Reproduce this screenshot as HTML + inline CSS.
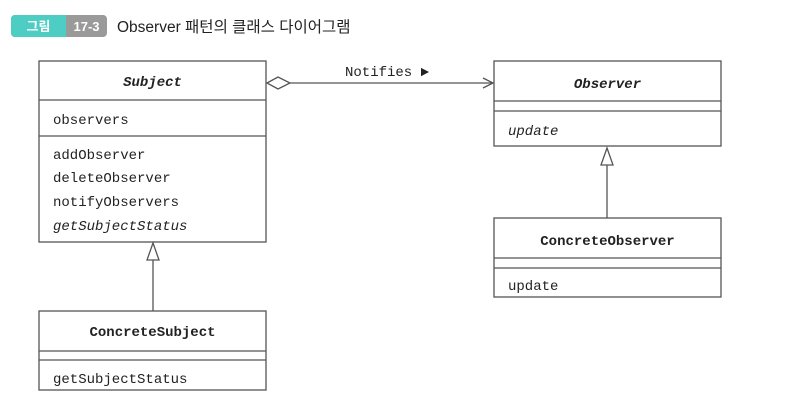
<!DOCTYPE html>
<html><head><meta charset="utf-8"><style>
html,body{margin:0;padding:0;background:#fff;width:803px;height:404px;overflow:hidden}
svg{display:block}
.m{font-family:"Liberation Mono","DejaVu Sans Mono",monospace;font-size:14px;fill:#222}
.b{font-weight:bold}
.i{font-style:italic}
</style></head><body>
<svg width="803" height="404" viewBox="0 0 803 404" xmlns="http://www.w3.org/2000/svg">
<rect x="11" y="15" width="96" height="22" rx="4" fill="#9a9a9a"/>
<path d="M15 15 H66 V37 H15 A4 4 0 0 1 11 33 V19 A4 4 0 0 1 15 15Z" fill="#4ecdc4"/>
<text x="38.5" y="31" text-anchor="middle" font-family="'Liberation Sans','Noto Sans CJK KR',sans-serif" font-size="13" font-weight="bold" fill="#fff">그림</text>
<text x="86.5" y="31" text-anchor="middle" font-family="'Liberation Sans',sans-serif" font-size="13" font-weight="bold" fill="#fff">17-3</text>
<text x="117" y="32" font-family="'Liberation Sans','Noto Sans CJK KR',sans-serif" font-size="15.5" fill="#222">Observer 패턴의 클래스 다이어그램</text>
<g fill="none" stroke="#555" stroke-width="1.3">
<rect x="39" y="61" width="227" height="181"/>
<line x1="39" y1="100" x2="266" y2="100"/>
<line x1="39" y1="136" x2="266" y2="136"/>
<rect x="39" y="311" width="227" height="79"/>
<line x1="39" y1="351" x2="266" y2="351"/>
<line x1="39" y1="360" x2="266" y2="360"/>
<rect x="494" y="61" width="227" height="85"/>
<line x1="494" y1="101" x2="721" y2="101"/>
<line x1="494" y1="111" x2="721" y2="111"/>
<rect x="494" y="218" width="227" height="79"/>
<line x1="494" y1="258" x2="721" y2="258"/>
<line x1="494" y1="268" x2="721" y2="268"/>
<line x1="153" y1="260" x2="153" y2="311"/>
<polygon points="153,243 147,260 159,260" fill="#fff"/>
<line x1="607" y1="165" x2="607" y2="218"/>
<polygon points="607,148 601,165 613,165" fill="#fff"/>
<polygon points="267,83 278,77 290,83 278,89" fill="#fff"/>
<line x1="290" y1="83" x2="493" y2="83"/>
<polyline points="483,78 493,83 483,88"/>
</g>
<text x="345" y="76" class="m">Notifies ►</text>
<text x="152.5" y="86" class="m b i" text-anchor="middle">Subject</text>
<text x="53" y="124" class="m">observers</text>
<text x="53" y="159" class="m">addObserver</text>
<text x="53" y="182" class="m">deleteObserver</text>
<text x="53" y="206" class="m">notifyObservers</text>
<text x="53" y="230" class="m i">getSubjectStatus</text>
<text x="152.5" y="336" class="m b" text-anchor="middle">ConcreteSubject</text>
<text x="53" y="383" class="m">getSubjectStatus</text>
<text x="607.5" y="88" class="m b i" text-anchor="middle">Observer</text>
<text x="508" y="135" class="m i">update</text>
<text x="607.5" y="245" class="m b" text-anchor="middle">ConcreteObserver</text>
<text x="508" y="290" class="m">update</text>
</svg>
</body></html>
